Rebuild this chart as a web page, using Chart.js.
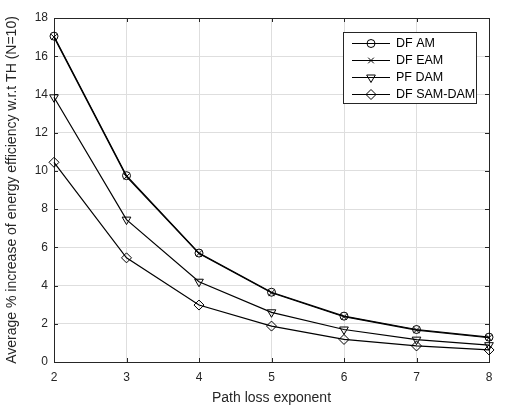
<!DOCTYPE html>
<html>
<head>
<meta charset="utf-8">
<script src="https://cdn.jsdelivr.net/npm/chart.js@4"></script>
<style>
  html, body { margin: 0; padding: 0; background: #fff; }
  #wrap { width: 505px; height: 407px; }
</style>
</head>
<body>
<div id="wrap"><canvas id="mycanvas" width="505" height="407"></canvas></div>
<script>
// values
var exponents = [2, 3, 4, 5, 6, 7, 8];
var dfAm     = [17.05, 9.75, 5.70, 3.65, 2.40, 1.70, 1.30];
var dfEam    = [17.00, 9.70, 5.68, 3.62, 2.37, 1.67, 1.27];
var pfDam    = [13.85, 7.45, 4.20, 2.60, 1.70, 1.17, 0.88];
var dfSamDam = [10.45, 5.45, 2.98, 1.88, 1.18, 0.84, 0.63];

var names   = ['DF AM', 'DF EAM', 'PF DAM', 'DF SAM-DAM'];
var series  = [dfAm, dfEam, pfDam, dfSamDam];
var markers = [
    {pointStyle: 'circle',   radius: 4,   rotation: 0},
    {pointStyle: 'crossRot', radius: 4,   rotation: 0},
    {pointStyle: 'triangle', radius: 5,   rotation: 180},
    {pointStyle: 'rectRot',  radius: 5,   rotation: 0}
];

var axisColor = '#262626';
var font = 'Liberation Sans, Arial, Helvetica, sans-serif';

function toPoints(vals) {
    var pts = [];
    for (var i in exponents) {
        pts.push({x: exponents[i], y: vals[i]});
    }
    return pts;
}

var datasets = [];
for (var i = 0; i < series.length; i++) {
    datasets.push({
        label: names[i],
        data: toPoints(series[i]),
        borderColor: '#000',
        borderWidth: 1.2,
        backgroundColor: 'rgba(0,0,0,0)',
        pointBackgroundColor: 'rgba(0,0,0,0)',
        pointBorderColor: '#000',
        pointBorderWidth: 1,
        pointStyle: markers[i].pointStyle,
        pointRadius: markers[i].radius,
        pointRotation: markers[i].rotation,
        tension: 0,
        clip: false
    });
}

// box round the axes plus inward ticks, MATLAB style
var boxPlugin = {
    id: 'box',
    beforeDatasetsDraw: function (chart) {
        var a = chart.chartArea, ctx = chart.ctx;
        var xs = chart.scales.x, ys = chart.scales.y;
        ctx.save();
        ctx.strokeStyle = axisColor;
        ctx.lineWidth = 1;
        ctx.beginPath();
        xs.ticks.forEach(function (t) {
            var px = Math.round(xs.getPixelForValue(t.value)) + 0.5;
            ctx.moveTo(px, a.bottom); ctx.lineTo(px, a.bottom - 4);
            ctx.moveTo(px, a.top); ctx.lineTo(px, a.top + 4);
        });
        ys.ticks.forEach(function (t) {
            var py = Math.round(ys.getPixelForValue(t.value)) + 0.5;
            ctx.moveTo(a.left, py); ctx.lineTo(a.left + 4, py);
            ctx.moveTo(a.right, py); ctx.lineTo(a.right - 4, py);
        });
        ctx.stroke();
        ctx.strokeRect(Math.round(a.left) + 0.5, Math.round(a.top) + 0.5,
            Math.round(a.right - a.left), Math.round(a.bottom - a.top));
        ctx.restore();
    }
};

// legend with line + marker samples
var legendPlugin = {
    id: 'lineLegend',
    afterDraw: function (chart) {
        var ctx = chart.ctx;
        var bx = 343.5, by = 32.5, bw = 133, bh = 71;
        ctx.save();
        ctx.fillStyle = '#fff';
        ctx.fillRect(bx, by, bw, bh);
        ctx.strokeStyle = axisColor;
        ctx.lineWidth = 1;
        ctx.strokeRect(bx, by, bw, bh);
        ctx.font = '12.5px ' + font;
        ctx.textBaseline = 'middle';
        for (var i = 0; i < names.length; i++) {
            var y = 43.5 + i * 17;
            ctx.strokeStyle = '#000';
            ctx.lineWidth = 1.2;
            ctx.beginPath();
            ctx.moveTo(352, y); ctx.lineTo(390, y);
            ctx.stroke();
            ctx.lineWidth = 1;
            ctx.fillStyle = 'rgba(0,0,0,0)';
            Chart.helpers.drawPoint(ctx, {
                pointStyle: markers[i].pointStyle,
                radius: markers[i].radius,
                rotation: markers[i].rotation,
                borderWidth: 1
            }, 371, y);
            ctx.fillStyle = '#000';
            ctx.fillText(names[i], 396, y + 0.5);
        }
        ctx.restore();
    }
};

var ctx = document.getElementById('mycanvas');
var lineGraph = new Chart(ctx, {
    type: 'line',
    data: {datasets: datasets},
    plugins: [boxPlugin, legendPlugin],
    options: {
        responsive: false,
        animation: false,
        devicePixelRatio: 1,
        layout: {padding: {left: 0, top: 18, right: 16, bottom: 0}},
        plugins: {
            legend: {display: false},
            tooltip: {enabled: false}
        },
        scales: {
            x: {
                type: 'linear',
                min: 2,
                max: 8,
                ticks: {stepSize: 1, color: axisColor, padding: 8, font: {family: font, size: 12}},
                grid: {color: '#dedede', drawTicks: false},
                border: {color: axisColor},
                title: {
                    display: true,
                    text: 'Path loss exponent',
                    color: axisColor,
                    font: {family: font, size: 14},
                    padding: {top: 0, bottom: 0}
                },
                afterFit: function (s) { s.height = 45; }
            },
            y: {
                min: 0,
                max: 18,
                ticks: {stepSize: 2, color: axisColor, padding: 6, font: {family: font, size: 12}},
                grid: {color: '#dedede', drawTicks: false},
                border: {color: axisColor},
                title: {
                    display: true,
                    text: 'Average % increase of energy efficiency w.r.t TH (N=10)',
                    color: axisColor,
                    font: {family: font, size: 14},
                    padding: {top: 4, bottom: 0}
                },
                afterFit: function (s) { s.width = 54; }
            }
        }
    }
});
</script>
</body>
</html>
